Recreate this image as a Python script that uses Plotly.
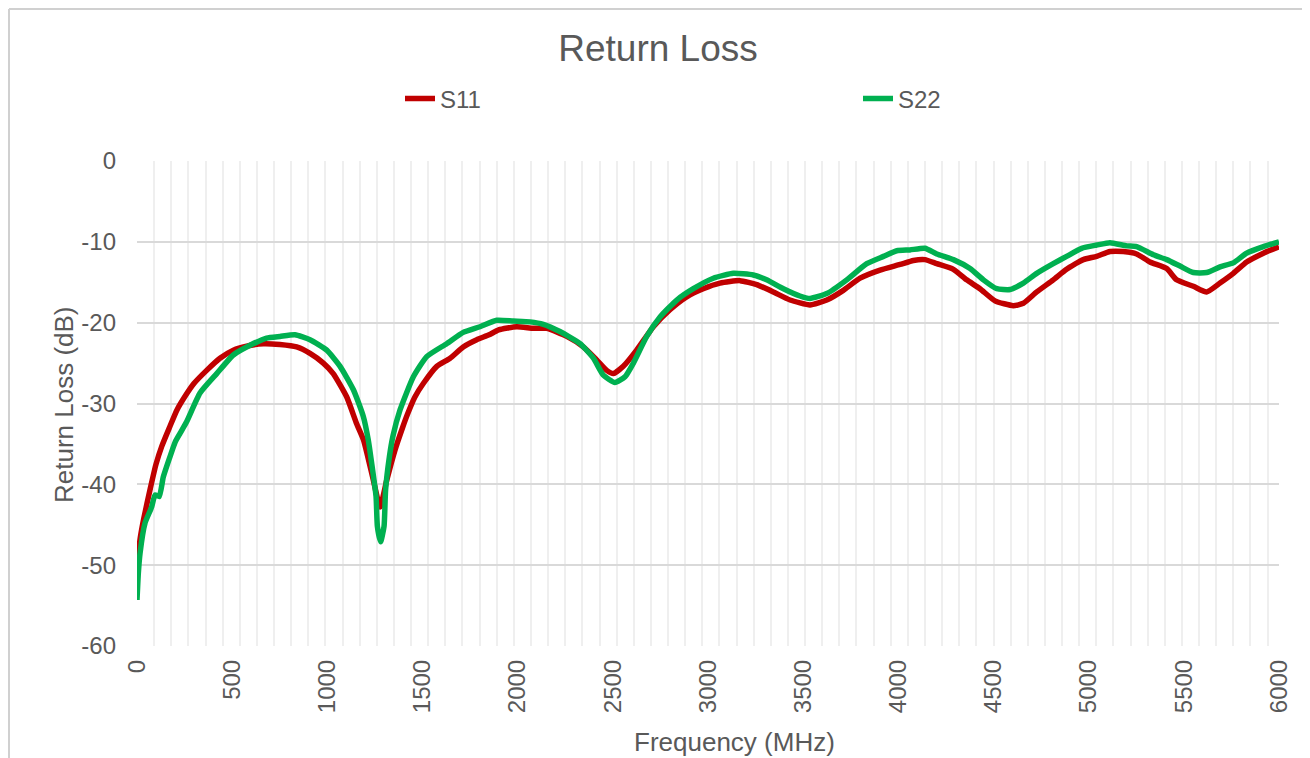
import plotly.graph_objects as go

# ---- data ----
freq_s11 = [0, 15, 35, 70, 100, 130, 170, 210, 250, 300, 366, 436, 506, 576, 664, 751, 839, 909, 979,
            1031, 1102, 1154, 1190, 1242, 1277, 1312, 1355, 1395, 1420, 1460, 1505, 1575, 1645, 1714, 1785,
            1850, 1900, 1995, 2082, 2152, 2258, 2345, 2415, 2468, 2503, 2555, 2625, 2713, 2800, 2888, 2975,
            3063, 3168, 3256, 3343, 3431, 3536, 3624, 3711, 3799, 3904, 4009, 4079, 4140, 4202, 4289, 4359,
            4429, 4508, 4604, 4657, 4727, 4814, 4884, 4972, 5042, 5112, 5182, 5252, 5322, 5410, 5462, 5550,
            5620, 5690, 5760, 5830, 5918, 6000]
s11 = [-51.8, -47.0, -44.3, -40.5, -37.5, -35.3, -33.0, -30.8, -29.2, -27.5, -25.9, -24.4, -23.4, -22.9, -22.6,
       -22.7, -23.0, -23.8, -25.0, -26.3, -29.2, -32.5, -34.5, -39.5, -42.8, -39.5, -35.8, -33.0, -31.4, -29.2,
       -27.5, -25.4, -24.4, -23.0, -22.1, -21.5, -20.9, -20.5, -20.7, -20.7, -21.7, -23.0, -24.6, -25.9, -26.3,
       -25.4, -23.4, -20.5, -18.4, -16.8, -15.8, -15.1, -14.8, -15.3, -16.2, -17.2, -17.8, -17.2, -16.0, -14.5,
       -13.5, -12.8, -12.3, -12.2, -12.7, -13.4, -14.7, -15.8, -17.3, -17.9, -17.6, -16.2, -14.7, -13.4, -12.2,
       -11.8, -11.2, -11.2, -11.5, -12.5, -13.3, -14.7, -15.5, -16.2, -15.1, -13.9, -12.5, -11.4, -10.6]

freq_s22 = [0, 7, 16, 42, 77, 95, 117, 138, 173, 200, 226, 260, 331, 419, 506, 594, 681, 751, 830, 909, 997,
            1067, 1137, 1189, 1215, 1233, 1256, 1263, 1280, 1298, 1306, 1326, 1345, 1382, 1452, 1522, 1627,
            1714, 1802, 1890, 1977, 2065, 2135, 2222, 2328, 2398, 2450, 2511, 2564, 2608, 2678, 2748, 2836,
            2923, 3028, 3133, 3238, 3308, 3396, 3483, 3536, 3624, 3729, 3834, 3922, 3992, 4061, 4140, 4202,
            4289, 4377, 4447, 4517, 4587, 4657, 4727, 4814, 4884, 4963, 5042, 5112, 5200, 5252, 5340, 5410,
            5480, 5550, 5620, 5690, 5760, 5830, 5918, 6000]
s22 = [-54.3, -51.0, -48.5, -44.8, -42.8, -41.3, -41.5, -39.1, -36.6, -34.8, -33.7, -32.3, -28.7, -26.3, -24.0,
       -22.8, -21.9, -21.7, -21.5, -22.1, -23.4, -25.4, -28.3, -31.6, -34.5, -37.4, -41.5, -45.2, -47.1, -45.2,
       -40.7, -36.6, -34.0, -30.8, -26.7, -24.2, -22.6, -21.2, -20.5, -19.7, -19.8, -19.9, -20.2, -21.1, -22.6,
       -24.4, -26.5, -27.4, -26.7, -25.0, -21.7, -19.3, -17.2, -15.8, -14.5, -13.9, -14.1, -14.7, -15.8, -16.7,
       -17.0, -16.4, -14.7, -12.7, -11.8, -11.1, -11.0, -10.8, -11.5, -12.2, -13.3, -14.7, -15.8, -15.9, -15.1,
       -13.9, -12.7, -11.8, -10.8, -10.4, -10.1, -10.5, -10.6, -11.6, -12.2, -13.0, -13.8, -13.8, -13.1, -12.6,
       -11.4, -10.6, -10.0]

x_ticks = [0, 500, 1000, 1500, 2000, 2500, 3000, 3500, 4000, 4500, 5000, 5500, 6000]
y_ticks = [0, -10, -20, -30, -40, -50, -60]
x_grid_step = 90

FONT = "Liberation Sans, Arial, sans-serif"
TXT = "#595959"

fig = go.Figure()
fig.add_trace(go.Scatter(x=freq_s11, y=s11, mode="lines", name="S11", legend="legend",
                         line=dict(color="#C00000", width=5.5, shape="spline", smoothing=0.5)))
fig.add_trace(go.Scatter(x=freq_s22, y=s22, mode="lines", name="S22", legend="legend2",
                         line=dict(color="#00B050", width=5.5, shape="spline", smoothing=0.5)))

# the page body has an 8px default margin, so the figure is sized/offset to compensate
OFF = 8
W, H = 1310 - OFF, 758 - OFF
L, R, T, B = 137, 1279, 161, 646          # plot area in reference (window) pixels
pw, ph = R - L, B - T

def px(xp):
    return (xp - L) / pw

def py(yp):
    return (B - yp) / ph

leg_common = dict(orientation="h", xanchor="left", yanchor="middle", y=py(99),
                  font=dict(size=24, color=TXT), bgcolor="rgba(0,0,0,0)")

fig.update_layout(
    width=W, height=H,
    margin=dict(l=L - OFF, r=1310 - R, t=T - OFF, b=758 - B),
    paper_bgcolor="white", plot_bgcolor="white",
    font=dict(family=FONT, color=TXT, size=24),
    title=dict(text="Return Loss", x=(658 - OFF) / W, xanchor="center", y=1 - (48 - OFF) / H,
               yanchor="middle", font=dict(size=37, color=TXT, family=FONT)),
    showlegend=True,
    legend=dict(x=px(400), **leg_common),
    legend2=dict(x=px(858), **leg_common),
    xaxis=dict(range=[0, 6000], tickvals=x_ticks, ticktext=[str(v) for v in x_ticks],
               tickangle=-90, showgrid=False, zeroline=False, showline=False, ticks="",
               ticklabelstandoff=8, tickfont=dict(size=24, color=TXT),
               minor=dict(tickmode="linear", tick0=0, dtick=x_grid_step, showgrid=True,
                          gridcolor="#efefef", gridwidth=1.5, ticks="")),
    yaxis=dict(range=[-60, 0], tickvals=y_ticks, ticktext=[str(v) for v in y_ticks],
               showgrid=True, gridcolor="#d9d9d9", gridwidth=2, zeroline=False, showline=False,
               ticks="", ticklabelstandoff=20, tickfont=dict(size=24, color=TXT)),
    annotations=[
        dict(text="Frequency (MHz)", xref="paper", yref="paper", x=px(734), y=py(742),
             xanchor="center", yanchor="middle", showarrow=False, font=dict(size=26, color=TXT)),
        dict(text="Return Loss (dB)", xref="paper", yref="paper", x=px(64), y=py(405),
             xanchor="center", yanchor="middle", textangle=-90, showarrow=False,
             font=dict(size=26, color=TXT)),
    ],
    shapes=[
        dict(type="line", xref="paper", yref="paper", x0=px(1305), x1=px(1305), y0=py(770), y1=py(9),
             line=dict(color="#d0d0d0", width=2), layer="above"),
        dict(type="line", xref="paper", yref="paper", x0=px(9), x1=px(1305), y0=py(9), y1=py(9),
             line=dict(color="#d0d0d0", width=2), layer="above"),
        dict(type="line", xref="paper", yref="paper", x0=px(9), x1=px(9), y0=py(770), y1=py(9),
             line=dict(color="#d0d0d0", width=2), layer="above"),
    ],
)

fig.write_html("out.html", config={"displayModeBar": False})
